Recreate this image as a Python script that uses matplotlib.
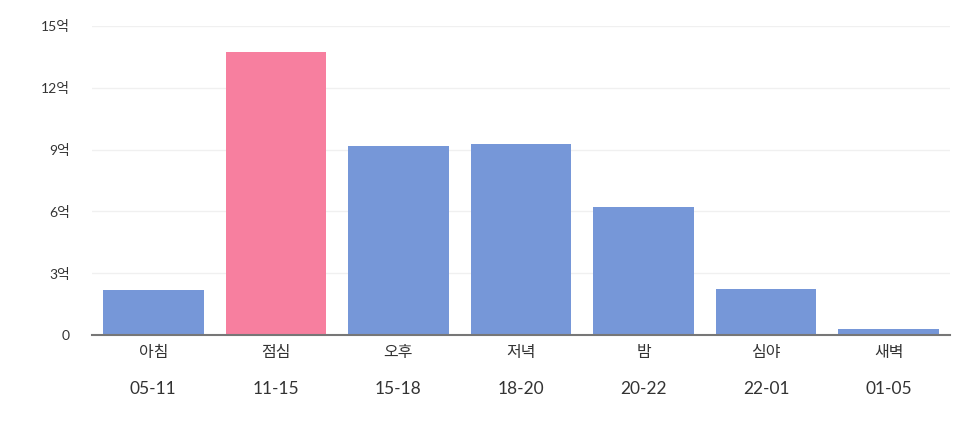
import matplotlib
matplotlib.use("Agg")
import matplotlib.pyplot as plt
from matplotlib.transforms import blended_transform_factory

categories = ["아침", "점심", "오후", "저녁", "밤", "심야", "새벽"]
time_ranges = ["05-11", "11-15", "15-18", "18-20", "20-22", "22-01", "01-05"]
values = [2.2, 13.75, 9.17, 9.27, 6.22, 2.25, 0.3]  # 억
highlight = "점심"
yticks = [0, 3, 6, 9, 12, 15]
ytick_labels = ["0", "3억", "6억", "9억", "12억", "15억"]

plt.rcParams['font.family'] = ['Lato', 'Noto Sans CJK KR', 'DejaVu Sans']

fig = plt.figure(figsize=(9.6, 4.26), dpi=100)
ax = fig.add_axes([0.0958, 0.2136, 0.8938, 0.7254])

colors = ["#f77f9f" if c == highlight else "#7697d8" for c in categories]
x = list(range(len(categories)))
ax.bar(x, values, width=0.82, color=colors, zorder=2)

ax.set_xlim(-0.5, len(categories) - 0.5)
ax.set_ylim(0, 15)
ax.set_yticks(yticks)
ax.set_yticklabels(ytick_labels, fontsize=10, color="#333333")
ax.grid(axis="y", color="#f0f0f0", linewidth=1, zorder=0)
ax.set_xticks(x)
ax.set_xticklabels(categories, fontsize=11.5, color="#333333")
ax.tick_params(axis="both", length=0)
ax.tick_params(axis="x", pad=8)
ax.tick_params(axis="y", pad=16)

trans = blended_transform_factory(ax.transData, ax.transAxes)
for xi, r in zip(x, time_ranges):
    ax.text(xi, -0.175, r, transform=trans, ha="center", va="center",
            fontsize=12.5, color="#333333")

for s in ["top", "right", "left"]:
    ax.spines[s].set_visible(False)
ax.spines["bottom"].set_color("#777777")
ax.spines["bottom"].set_linewidth(1.5)
ax.spines["bottom"].set_zorder(3)

fig.savefig("out.png", dpi=100, facecolor="white")
